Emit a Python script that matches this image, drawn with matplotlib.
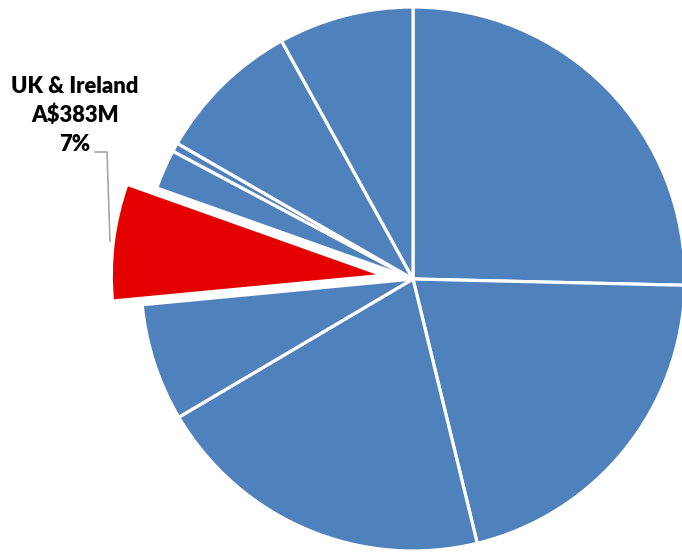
import matplotlib.pyplot as plt
from matplotlib.lines import Line2D

# revenue by region, A$M (clockwise from 12 o'clock)
regions = ["", "", "", "", "UK & Ireland", "", "", "", ""]
revenue = [1400, 1150, 1121, 385, 383, 130, 29, 478, 443]
highlight = "UK & Ireland"

blue = "#4F81BD"
red = "#E50000"

W, H = 682, 554
fig = plt.figure(figsize=(W / 100, H / 100), dpi=100)

# pie centre / radius in pixels
cx, cy, r = 413, 279, 272
ax = fig.add_axes([(cx - r) / W, (H - cy - r) / H, 2 * r / W, 2 * r / H])

colors = [red if name == highlight else blue for name in regions]
explode = [0.11 if name == highlight else 0 for name in regions]

ax.pie(revenue, colors=colors, explode=explode, startangle=90,
       counterclock=False, radius=1,
       wedgeprops=dict(edgecolor="white", linewidth=2.3))
ax.set_xlim(-1, 1)
ax.set_ylim(-1, 1)
ax.set_aspect("equal")
ax.axis("off")

idx = regions.index(highlight)
total = sum(revenue)
label = f"{highlight}\nA${revenue[idx]}M\n{revenue[idx] / total:.0%}"
fig.text(75 / W, 1 - 76 / H, label, ha="center", va="top",
         fontsize=15.8, fontweight="heavy", family=["Lato", "DejaVu Sans"],
         linespacing=1.45, color="black")

# leader line to the highlighted slice
xs = [95 / W, 107 / W, 110 / W]
ys = [1 - 152 / H, 1 - 152 / H, 1 - 241 / H]
fig.add_artist(Line2D(xs, ys, color="#A6A6A6", linewidth=1.2))

fig.savefig("out.png", dpi=100)
